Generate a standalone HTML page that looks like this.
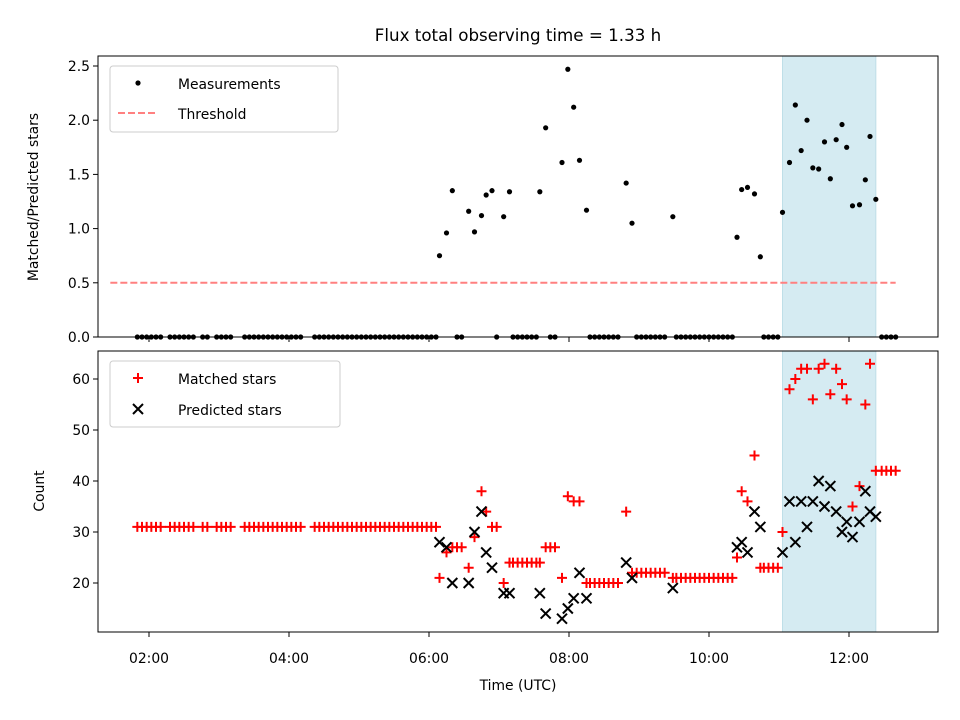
<!DOCTYPE html>
<html><head><meta charset="utf-8"><style>
html,body{margin:0;padding:0;background:#fff;}
svg{display:block;font-family:"DejaVu Sans","Liberation Sans",sans-serif;}
</style></head><body>
<svg id="chart" width="960" height="720" viewBox="0 0 960 720" xmlns="http://www.w3.org/2000/svg">
<rect width="960" height="720" fill="#fff"/>
<text x="518" y="41" text-anchor="middle" font-size="16.7">Flux total observing time = 1.33 h</text>
<g id="topPlot"></g><g id="botPlot"></g>
<text x="518" y="690" text-anchor="middle" font-size="13.9">Time (UTC)</text>
<text transform="translate(38,197) rotate(-90)" text-anchor="middle" font-size="13.9">Matched/Predicted stars</text>
<text transform="translate(44,491) rotate(-90)" text-anchor="middle" font-size="13.9">Count</text>
</svg>
<script>
// times in minutes since 00:00 UTC
const times=[110,114,118,122,126,130,138,142,146,150,154,158,166,170,178,182,186,190,
202,206,210,214,218,222,226,230,234,238,242,246,250,
262,266,270,274,278,282,286,290,294,298,302,306,310,314,318,322,326,330,334,338,342,346,350,354,358,362,366,
369,375,380,384,388,394,399,405,409,414,418,424,429,432,436,440,444,448,452,455,460,464,468,474,479,484,489,495,
498,502,506,510,514,518,522,529,534,538,542,546,550,554,558,562,569,
572,576,580,584,588,592,596,600,604,608,612,616,620,
624,628,633,639,644,647,651,655,659,
663,669,674,679,684,689,694,699,704,709,714,718,723,729,734,738,743,
748,752,756,760];
const matched=[31,31,31,31,31,31,31,31,31,31,31,31,31,31,31,31,31,31,
31,31,31,31,31,31,31,31,31,31,31,31,31,
31,31,31,31,31,31,31,31,31,31,31,31,31,31,31,31,31,31,31,31,31,31,31,31,31,31,31,
21,26,27,27,27,23,29,38,34,31,31,20,24,24,24,24,24,24,24,24,27,27,27,21,37,36,36,20,
20,20,20,20,20,20,20,34,22,22,22,22,22,22,22,22,21,
21,21,21,21,21,21,21,21,21,21,21,21,21,
25,38,36,45,23,23,23,23,23,
30,58,60,62,62,56,62,63,57,62,59,56,35,39,55,63,42,
42,42,42,42];
const N=null;
const predicted=[N,N,N,N,N,N,N,N,N,N,N,N,N,N,N,N,N,N,
N,N,N,N,N,N,N,N,N,N,N,N,N,
N,N,N,N,N,N,N,N,N,N,N,N,N,N,N,N,N,N,N,N,N,N,N,N,N,N,N,
28,27,20,N,N,20,30,34,26,23,N,18,18,N,N,N,N,N,N,18,14,N,N,13,15,17,22,17,
N,N,N,N,N,N,N,24,21,N,N,N,N,N,N,N,19,
N,N,N,N,N,N,N,N,N,N,N,N,N,
27,28,26,34,31,N,N,N,N,
26,36,28,36,31,36,40,35,39,34,30,32,29,32,38,34,33,
N,N,N,N];
const ratio=[0,0,0,0,0,0,0,0,0,0,0,0,0,0,0,0,0,0,
0,0,0,0,0,0,0,0,0,0,0,0,0,
0,0,0,0,0,0,0,0,0,0,0,0,0,0,0,0,0,0,0,0,0,0,0,0,0,0,0,
0.75,0.96,1.35,0,0,1.16,0.97,1.12,1.31,1.35,0,1.11,1.34,0,0,0,0,0,0,1.34,1.93,0,0,1.61,2.47,2.12,1.63,1.17,
0,0,0,0,0,0,0,1.42,1.05,0,0,0,0,0,0,0,1.11,
0,0,0,0,0,0,0,0,0,0,0,0,0,
0.92,1.36,1.38,1.32,0.74,0,0,0,0,
1.15,1.61,2.14,1.72,2.0,1.56,1.55,1.80,1.46,1.82,1.96,1.75,1.21,1.22,1.45,1.85,1.27,
0,0,0,0];
const threshold=0.5;
const shadeStart=663, shadeEnd=743;
const xTickMinutes=[120,240,360,480,600,720];
const xTickLabels=["02:00","04:00","06:00","08:00","10:00","12:00"];
const topTicks=[0,0.5,1.0,1.5,2.0,2.5];
const topTickLabels=["0.0","0.5","1.0","1.5","2.0","2.5"];
const botTicks=[20,30,40,50,60];
const botTickLabels=["20","30","40","50","60"];

const NS="http://www.w3.org/2000/svg";
const L=98,R=938,T1=56,B1=337,T2=351,B2=632;
const X=m=>149+(m-120)*70/60;
const Y1=v=>337-v*108.4;
const Y2=v=>583-(v-20)*5.1;
function el(p,tag,a){const e=document.createElementNS(NS,tag);for(const k in a)e.setAttribute(k,a[k]);p.appendChild(e);return e;}
const gTop=document.getElementById('topPlot'),gBot=document.getElementById('botPlot');

let s1=el(gTop,'rect',{x:X(shadeStart),y:T1,width:X(shadeEnd)-X(shadeStart),height:B1-T1,fill:'#d5ebf2',stroke:'#bfdfe8'});


let s2=el(gBot,'rect',{x:X(shadeStart),y:T2,width:X(shadeEnd)-X(shadeStart),height:B2-T2,fill:'#d5ebf2',stroke:'#bfdfe8'});



let th=el(gTop,'line',{x1:X(times[0])-27,x2:X(times[times.length-1]),y1:Y1(threshold),y2:Y1(threshold),stroke:'#ff8080','stroke-width':2,'stroke-dasharray':'7,3'});



times.forEach((t,i)=>{
  const c=el(gTop,'circle',{cx:X(t),cy:Y1(ratio[i]),r:2.6,fill:'#000'});
  
  
});
function plus(g,x,y){return el(g,'path',{d:`M${x-5},${y}H${x+5}M${x},${y-5}V${y+5}`,stroke:'#f00','stroke-width':2,fill:'none'});}
function cross(g,x,y){return el(g,'path',{d:`M${x-5},${y-5}L${x+5},${y+5}M${x-5},${y+5}L${x+5},${y-5}`,stroke:'#000','stroke-width':2,fill:'none'});}
times.forEach((t,i)=>{
  const p=plus(gBot,X(t),Y2(matched[i]));
  
  
});
times.forEach((t,i)=>{
  if(predicted[i]===null)return;
  const p=cross(gBot,X(t),Y2(predicted[i]));
  
  
});

let f1=el(gTop,'rect',{x:L,y:T1,width:R-L,height:B1-T1,fill:'none',stroke:'#000','stroke-width':1});


let f2=el(gBot,'rect',{x:L,y:T2,width:R-L,height:B2-T2,fill:'none',stroke:'#000','stroke-width':1});



xTickMinutes.forEach((m,i)=>{
  const x=X(m);
  const a=el(gTop,'line',{x1:x,x2:x,y1:B1,y2:B1+5,stroke:'#000'});
  
  
  const b=el(gBot,'line',{x1:x,x2:x,y1:B2,y2:B2+5,stroke:'#000'});
  
  
  const t=el(gBot,'text',{x:x,y:B2+31,'text-anchor':'middle','font-size':13.9});
  t.textContent=xTickLabels[i];
  
  
});
topTicks.forEach((v,i)=>{
  const y=Y1(v);
  const a=el(gTop,'line',{x1:L-5,x2:L,y1:y,y2:y,stroke:'#000'});
  
  
  const t=el(gTop,'text',{x:L-8,y:y+5,'text-anchor':'end','font-size':13.9});
  t.textContent=topTickLabels[i];
  
  
});
botTicks.forEach((v,i)=>{
  const y=Y2(v);
  const a=el(gBot,'line',{x1:L-5,x2:L,y1:y,y2:y,stroke:'#000'});
  
  
  const t=el(gBot,'text',{x:L-8,y:y+5,'text-anchor':'end','font-size':13.9});
  t.textContent=botTickLabels[i];
  
  
});

let lg1=el(gTop,'g',{});


el(lg1,'rect',{x:110,y:66,width:228,height:66,rx:3,fill:'#fff','fill-opacity':0.8,stroke:'#ccc'});
el(lg1,'circle',{cx:138,cy:83,r:2.6,fill:'#000'});
let lt=el(lg1,'text',{x:178,y:89,'font-size':13.9});lt.textContent='Measurements';


el(lg1,'line',{x1:118,x2:158,y1:113,y2:113,stroke:'#ff8080','stroke-width':2,'stroke-dasharray':'7,3'});
lt=el(lg1,'text',{x:178,y:119,'font-size':13.9});lt.textContent='Threshold';



let lg2=el(gBot,'g',{});


el(lg2,'rect',{x:110,y:361,width:230,height:66,rx:3,fill:'#fff','fill-opacity':0.8,stroke:'#ccc'});
plus(lg2,138,378);
lt=el(lg2,'text',{x:178,y:384,'font-size':13.9});lt.textContent='Matched stars';


cross(lg2,138,409);
lt=el(lg2,'text',{x:178,y:415,'font-size':13.9});lt.textContent='Predicted stars';


</script>
</body></html>
